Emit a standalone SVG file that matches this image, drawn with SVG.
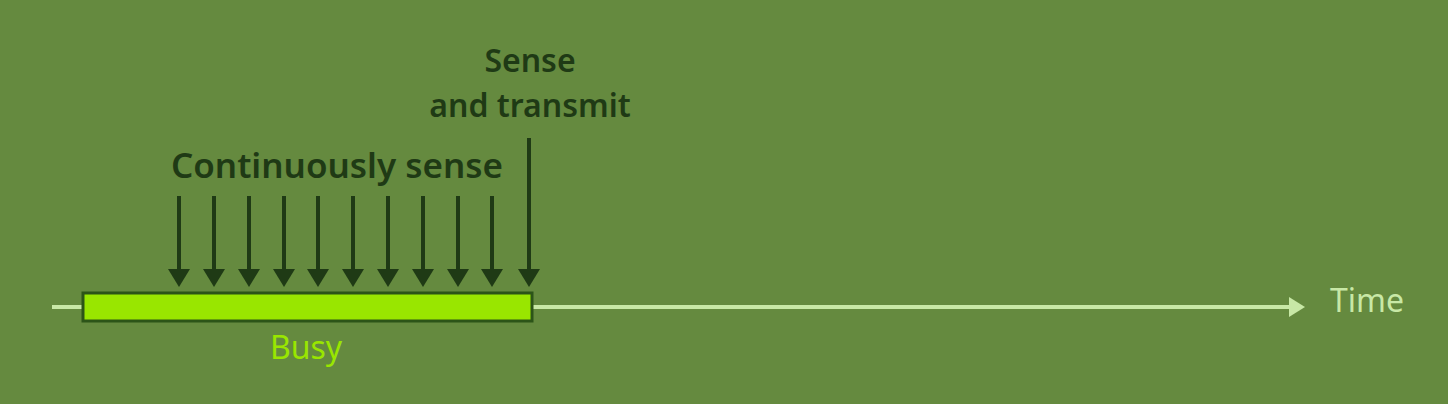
<svg xmlns="http://www.w3.org/2000/svg" width="1448" height="404" viewBox="0 0 1448 404">
<defs>
<style>
.lbl{font-family:"Noto Sans","Open Sans",sans-serif;font-weight:600;fill:#1f3a15;text-anchor:middle}
.arr{stroke:#1f3a15;stroke-width:4;fill:none;marker-end:url(#ah)}
</style>
<marker id="ah" markerUnits="userSpaceOnUse" markerWidth="18" markerHeight="22" refX="12" refY="11" orient="auto" viewBox="0 0 18 22">
<path d="M0,0 L18,11 L0,22 Z" fill="#1f3a15"/>
</marker>
<marker id="th" markerUnits="userSpaceOnUse" markerWidth="16" markerHeight="20" refX="10" refY="10" orient="auto" viewBox="0 0 16 20">
<path d="M0,0 L16,10 L0,20 Z" fill="#c8e8a6"/>
</marker>
</defs>
<rect x="0" y="0" width="1448" height="404" fill="#658a3f"/>
<g id="timeline">
<line x1="52" y1="307" x2="1299" y2="307" stroke="#c8e8a6" stroke-width="4" marker-end="url(#th)"/>
<text x="1330" y="312" font-family="Noto Sans,Open Sans,sans-serif" font-size="32" fill="#c8e8a6">Time</text>
</g>
<g id="busy">
<rect x="83" y="293" width="449" height="28" fill="#99e600" stroke="#2c5418" stroke-width="3"/>
<text x="306" y="359" font-family="Noto Sans,Open Sans,sans-serif" font-size="32" fill="#99e600" text-anchor="middle">Busy</text>
</g>
<g id="continuous-label">
<text class="lbl" x="337" y="178" font-size="35">Continuously sense</text>
</g>
<g id="transmit-label">
<text class="lbl" x="530" y="72" font-size="32">Sense</text>
<text class="lbl" x="530" y="117" font-size="32">and transmit</text>
</g>
<g id="connectors">
<line class="arr" x1="179" y1="196" x2="179" y2="281"/>
<line class="arr" x1="214" y1="196" x2="214" y2="281"/>
<line class="arr" x1="249" y1="196" x2="249" y2="281"/>
<line class="arr" x1="284" y1="196" x2="284" y2="281"/>
<line class="arr" x1="318" y1="196" x2="318" y2="281"/>
<line class="arr" x1="353" y1="196" x2="353" y2="281"/>
<line class="arr" x1="388" y1="196" x2="388" y2="281"/>
<line class="arr" x1="423" y1="196" x2="423" y2="281"/>
<line class="arr" x1="458" y1="196" x2="458" y2="281"/>
<line class="arr" x1="492" y1="196" x2="492" y2="281"/>
<line class="arr" x1="529" y1="138" x2="529" y2="281"/>
</g>
</svg>
